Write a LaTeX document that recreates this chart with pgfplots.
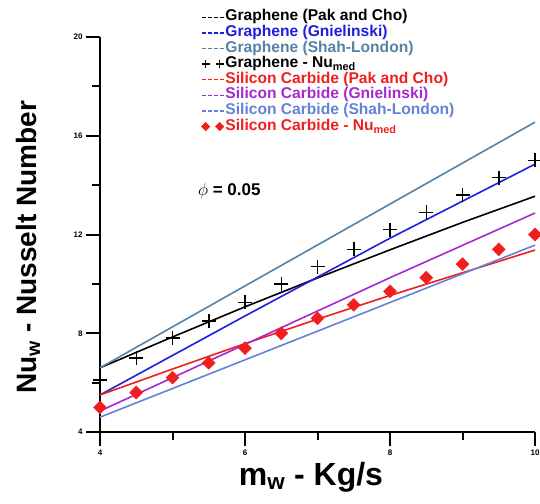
\documentclass[border=0pt]{standalone}
\usepackage{fontspec}
\setmainfont{Liberation Sans}
\usepackage{pgfplots}
\pgfplotsset{compat=1.18}

\definecolor{gsl}{RGB}{85,130,165}
\definecolor{gblue}{RGB}{30,30,220}
\definecolor{spur}{RGB}{165,40,210}
\definecolor{ssl}{RGB}{100,130,215}
\definecolor{sred}{RGB}{240,30,30}

\pgfplotsset{
  dashleg/.style={legend image code/.code={
    \draw[##1, dash pattern=on 4bp off 2bp, line width=1.2bp] (0bp,0bp) -- (22bp,0bp);}},
}

\begin{document}
\begin{tikzpicture}
\begin{axis}[
    scale only axis,
    width=435bp, height=395bp,
    xmin=4, xmax=10, ymin=4, ymax=20,
    axis x line*=bottom, axis y line*=left,
    axis line style={line width=1.5bp},
    xtick={4,6,8,10}, minor xtick={5,7,9},
    ytick={4,8,12,16,20}, minor ytick={6,10,14,18},
    tick align=outside,
    tickwidth=14bp, subtickwidth=8bp,
    xtick style={black, line width=2bp},
    ytick style={black, line width=2bp},
    /pgf/number format/assume math mode=true,
    ticklabel style={font=\fontsize{8bp}{9bp}\selectfont\bfseries},
    xlabel={m\textsubscript{w} - Kg/s},
    ylabel={Nu\textsubscript{w} - Nusselt Number},
    xlabel style={font=\fontsize{32bp}{34bp}\selectfont\bfseries,
      at={(axis description cs:0.485,-0.115)}, anchor=center},
    ylabel style={font=\fontsize{28bp}{30bp}\selectfont\bfseries,
      at={(axis description cs:-0.165,0.468)}, anchor=center},
    legend style={draw=none, fill=none, at={(rel axis cs:0.225,1.075)}, anchor=north west,
      font=\fontsize{15.6bp}{16bp}\selectfont\bfseries,
      nodes={text height=10.2bp, text depth=3bp, inner sep=1.2bp}},
    legend cell align=left,
    clip=false,
]
% Graphene (Pak and Cho)
\addplot[black, line width=1.6bp, dashleg] coordinates {
  (4,6.60) (5,7.85) (6,9.07) (7,10.24) (8,11.38) (9,12.49) (10,13.55)};
\addlegendentry{\color{black}Graphene (Pak and Cho)}
% Graphene (Gnielinski)
\addplot[gblue, line width=1.6bp, dashleg] coordinates {
  (4,5.50) (6,8.70) (8,11.85) (10,14.85)};
\addlegendentry{\color{gblue}Graphene (Gnielinski)}
% Graphene (Shah-London)
\addplot[gsl, line width=1.6bp, dashleg] coordinates {
  (4,6.60) (10,16.55)};
\addlegendentry{\color{gsl}Graphene (Shah-London)}
% Graphene Nu_med
\addplot[black, only marks, mark=+, mark size=7bp, line width=1.5bp,
  legend image code/.code={\draw[black, line width=1.5bp] plot[only marks, mark=+, mark size=4bp] coordinates {(4bp,0bp) (18bp,0bp)};}] coordinates {
  (4,6.10) (4.5,7.00) (5,7.80) (5.5,8.50) (6,9.25) (6.5,10.00) (7,10.70)
  (7.5,11.40) (8,12.20) (8.5,12.90) (9,13.60) (9.5,14.30) (10,15.00)};
\addlegendentry{\color{black}Graphene - Nu\textsubscript{med}}
% Silicon Carbide (Pak and Cho)
\addplot[sred, line width=1.6bp, dashleg] coordinates {
  (4,5.50) (5,6.55) (6,7.58) (7,8.57) (8,9.53) (9,10.45) (10,11.37)};
\addlegendentry{\color{sred}Silicon Carbide (Pak and Cho)}
% Silicon Carbide (Gnielinski)
\addplot[spur, line width=1.6bp, dashleg] coordinates {
  (4,4.85) (6,7.55) (8,10.25) (10,12.87)};
\addlegendentry{\color{spur}Silicon Carbide (Gnielinski)}
% Silicon Carbide (Shah-London)
\addplot[ssl, line width=1.6bp, dashleg] coordinates {
  (4,4.60) (10,11.57)};
\addlegendentry{\color{ssl}Silicon Carbide (Shah-London)}
% Silicon Carbide Nu_med
\addplot[sred, only marks, mark=square*, mark size=4.6bp, mark options={rotate=45, fill=sred, draw=sred},
  legend image code/.code={\draw[sred, fill=sred] plot[only marks, mark=square*, mark size=3bp, mark options={rotate=45}] coordinates {(4bp,0bp) (18bp,0bp)};}] coordinates {
  (4,5.00) (4.5,5.60) (5,6.20) (5.5,6.80) (6,7.40) (6.5,8.00) (7,8.60)
  (7.5,9.15) (8,9.70) (8.5,10.25) (9,10.80) (9.5,11.40) (10,12.00)};
\addlegendentry{\color{sred}Silicon Carbide - Nu\textsubscript{med}}

% tick marks as filled bars
\pgfplotsinvokeforeach{4,6,8,10}{\fill[black] (axis cs:#1,4) ++(-1bp,0bp) rectangle ++(2bp,-14bp);}
\pgfplotsinvokeforeach{5,7,9}{\fill[black] (axis cs:#1,4) ++(-1bp,0bp) rectangle ++(2bp,-8bp);}
\pgfplotsinvokeforeach{4,8,12,16,20}{\fill[black] (axis cs:4,#1) ++(0bp,-1bp) rectangle ++(-14bp,2bp);}
\pgfplotsinvokeforeach{6,10,14,18}{\fill[black] (axis cs:4,#1) ++(0bp,-1bp) rectangle ++(-8bp,2bp);}

\node[anchor=west, font=\fontsize{17bp}{18bp}\selectfont\bfseries, inner sep=0pt]
  at (axis cs:5.35,13.76) {$\phi$ = 0.05};
\coordinate (bl) at (rel axis cs:0,0);
\coordinate (tr) at (rel axis cs:1,1);
\end{axis}
\pgfresetboundingbox
\path ([shift={(-100bp,-71bp)}]bl) rectangle ([shift={(5bp,37bp)}]tr);
\end{tikzpicture}
\end{document}
